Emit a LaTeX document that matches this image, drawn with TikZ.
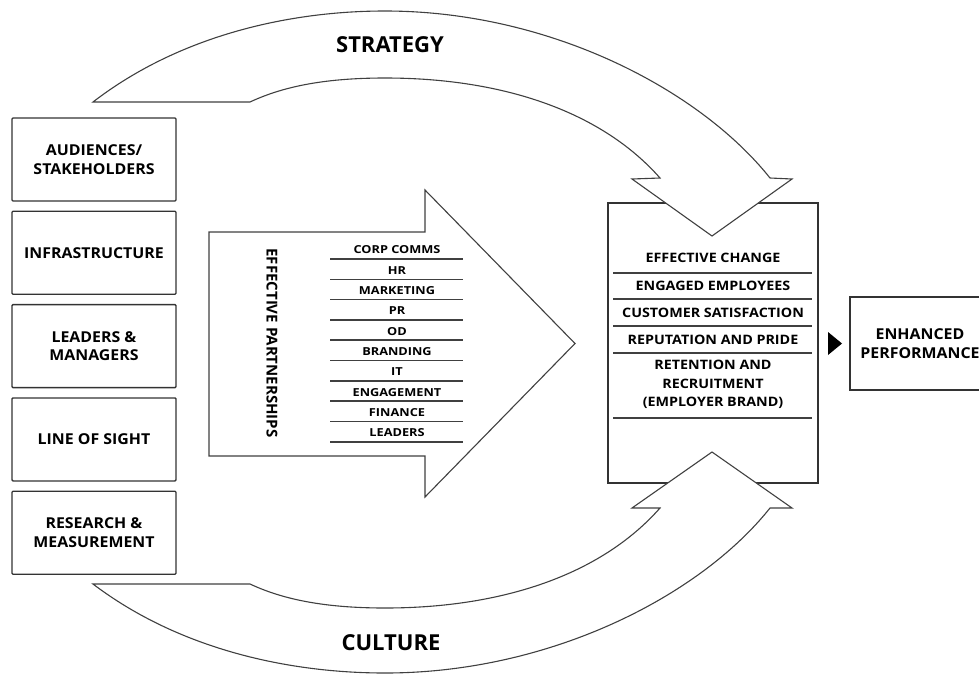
\documentclass[tikz,border=0pt]{standalone}
\usepackage{fontspec}
\setmainfont{Open Sans}
\newfontfamily\boxfont{Open Sans}[FakeStretch=1.06]
\newfontfamily\itemfont{Open Sans}[FakeStretch=1.16]
\newfontfamily\outfont{Open Sans}[FakeStretch=1.1]
\usetikzlibrary{positioning}

\begin{document}
\begin{tikzpicture}[x=1pt,y=-1pt,
  sidebox/.style={draw=black!80, line width=1.3pt, rounded corners=1pt,
    minimum width=164pt, minimum height=83pt, align=center,
    font=\boxfont\bfseries\fontsize{15}{18.5}\selectfont},
  blockarrow/.style={draw=black!75, line width=1.1pt, fill=white},
  rule/.style={black!75, line width=1.6pt},
  listitem/.style={font=\itemfont\bfseries\fontsize{11}{12}\selectfont, inner sep=0pt},
  outcome/.style={font=\outfont\bfseries\fontsize{13}{18.5}\selectfont, align=center, inner sep=0pt},
  bigword/.style={font=\bfseries\fontsize{22}{24}\selectfont}]

\useasboundingbox (0,0) rectangle (979,675);

% enablers down the left
\node[sidebox] (aud) at (94,159.5) {AUDIENCES/\\STAKEHOLDERS};
\node[sidebox, below=9pt of aud] (infra) {INFRASTRUCTURE};
\node[sidebox, below=9pt of infra] (lead) {LEADERS \&\\MANAGERS};
\node[sidebox, below=9pt of lead] (sight) {LINE OF SIGHT};
\node[sidebox, below=9pt of sight] (research) {RESEARCH \&\\MEASUREMENT};

% partnership block arrow
\draw[blockarrow] (209,232) -- (425,232) -- (425,190) -- (575,343.5) -- (425,497) -- (425,456) -- (209,456) -- cycle;
\node[rotate=-90, font=\bfseries\fontsize{15}{16}\selectfont] (partners) at (272,343) {EFFECTIVE PARTNERSHIPS};
\foreach \lbl [count=\i from 0] in {CORP COMMS, HR, MARKETING, PR, OD, BRANDING, IT, ENGAGEMENT, FINANCE, LEADERS} {
  \node[listitem] (p\i) at (397,{250+20.3*\i}) {\lbl};
  \draw[rule] (330,{259+20.3*\i}) -- (463,{259+20.3*\i});
}

% outcomes
\node[draw=black!80, line width=1.3pt, minimum width=210pt, minimum height=280pt] (results) at (713,343) {};
\node[outcome] (change) at (713,258) {EFFECTIVE CHANGE};
\node[outcome] (engaged) at (713,286) {ENGAGED EMPLOYEES};
\node[outcome] (customer) at (713,313) {CUSTOMER SATISFACTION};
\node[outcome] (pride) at (713,339.5) {REPUTATION AND PRIDE};
\node[outcome] (retention) at (713,384.5) {RETENTION AND\\RECRUITMENT\\(EMPLOYER BRAND)};
\foreach \y in {273,299,326,353,418}
  \draw[rule] (613,\y) -- (812,\y);

\fill[black] (828,332) -- (828,355) -- (842,343.5) -- cycle;
\node[sidebox, minimum width=140pt, minimum height=93pt, rounded corners=0pt] (perf) at (920,343.5) {ENHANCED\\PERFORMANCE};

% strategy over the top
\draw[blockarrow] (93,102) .. controls (180,35) and (290,11) .. (385,11)
  .. controls (550,11) and (700,90) .. (770,178) -- (792,179) -- (712,236) -- (632,179) -- (660,178)
  .. controls (600,110) and (500,78) .. (385,78) .. controls (320,78) and (280,88) .. (250,102) -- cycle;
\node[bigword] (strategy) at (390,45) {STRATEGY};

% culture underneath
\draw[blockarrow] (93,584) .. controls (180,650) and (290,673) .. (385,673)
  .. controls (550,673) and (700,596) .. (770,508) -- (792,508) -- (712,452) -- (632,508) -- (660,508)
  .. controls (600,576) and (500,608) .. (385,608) .. controls (320,608) and (280,598) .. (250,584) -- cycle;
\node[bigword] (culture) at (391,643) {CULTURE};

\end{tikzpicture}
\end{document}
